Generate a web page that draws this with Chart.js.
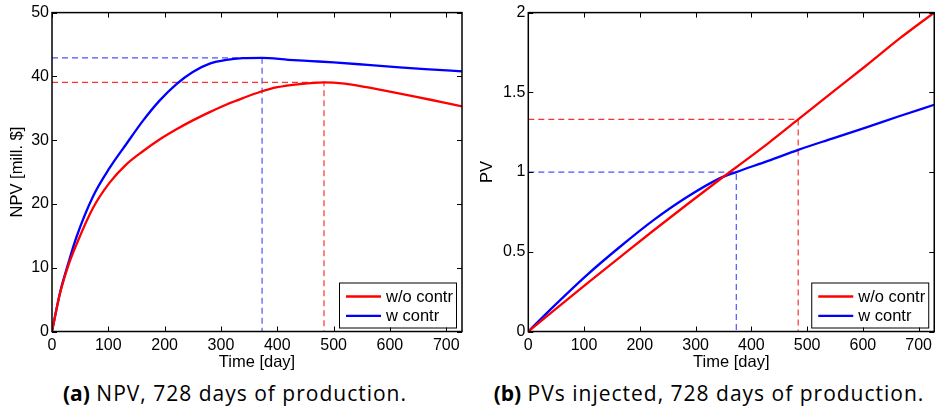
<!DOCTYPE html>
<html>
<head>
<meta charset="utf-8">
<script src="https://cdn.jsdelivr.net/npm/chart.js@4.4.1/dist/chart.umd.min.js"></script>
<style>
  body { margin: 0; background: #fff; width: 936px; height: 413px; position: relative; overflow: hidden; }
  canvas { position: absolute; top: 0; }
  #npvChart { left: 0; }
  #pvChart { left: 466px; }
  .caption {
    position: absolute; top: 383px; line-height: 1;
    font-family: "Open Sans", sans-serif; font-size: 21px; letter-spacing: 1px;
    color: #000; white-space: nowrap; transform: translateX(-50%);
  }
  .caption b { font-weight: 700; letter-spacing: 0; }
</style>
</head>
<body>
<canvas id="npvChart" width="466" height="376"></canvas>
<canvas id="pvChart" width="470" height="376"></canvas>
<div class="caption" style="left:235px"><b>(a)</b> NPV, 728 days of production.</div>
<div class="caption" style="left:709px"><b>(b)</b> PVs injected, 728 days of production.</div>

<script>
// NPV [mill. $] over time, without / with control
const npvDaysWithout = [0, 14, 30, 46, 73, 102, 132, 162, 191, 221, 250, 280, 310, 339, 369, 400, 440, 483, 520, 558, 600, 647, 690, 728];
const npvWithout     = [0, 5.9, 10.6, 14.2, 19.4, 23.3, 26.2, 28.3, 30.1, 31.7, 33.1, 34.4, 35.6, 36.6, 37.55, 38.3, 38.8, 39.07, 38.85, 38.3, 37.6, 36.8, 36.0, 35.3];
const npvDaysWith    = [0, 14, 30, 43, 73, 102, 132, 162, 191, 221, 250, 280, 310, 339, 373, 420, 460, 500, 560, 617, 670, 728];
const npvWith        = [0, 6.0, 11.0, 14.7, 21.2, 25.6, 29.4, 33.1, 36.2, 38.8, 40.7, 42.0, 42.6, 42.85, 42.9, 42.6, 42.4, 42.2, 41.8, 41.4, 41.1, 40.8];

// pore volumes injected
const pvDays    = [0, 45, 105, 164, 224, 284, 344, 373, 430, 484, 545, 605, 665, 728];
const pvWithout = [0, 0.13, 0.30, 0.465, 0.632, 0.795, 0.955, 1.03, 1.18, 1.33, 1.50, 1.665, 1.835, 2.0];
const pvWith    = [0, 0.156, 0.354, 0.53, 0.697, 0.842, 0.962, 1.0, 1.07, 1.139, 1.21, 1.279, 1.35, 1.422];

// optimum markers (day, value)
const npvPeakWithout = [483, 39.07];
const npvPeakWith    = [373, 42.9];
const pvAtPeakWithout = [484, 1.33];
const pvAtPeakWith    = [373, 1.0];

const xTicks = [0, 100, 200, 300, 400, 500, 600, 700];
const seriesLabels = ['w/o contr', 'w contr'];

const RED = '#ff0000';
const BLUE = '#0000ff';
const FAMILY = 'Liberation Sans, Arial, sans-serif';
const TICK_FONT = { family: FAMILY, size: 16 };
const TITLE_FONT = { family: FAMILY, size: 16.5 };

const pairs = (xs, ys) => xs.map((x, i) => ({ x: x, y: ys[i] }));
const guide = (pt) => [{ x: 0, y: pt[1] }, { x: pt[0], y: pt[1] }, { x: pt[0], y: 0 }];

// box around the plot with inward ticks on all four sides
const frame = {
  id: 'frame',
  afterDatasetsDraw(chart) {
    const { ctx, chartArea: a, scales: { x, y } } = chart;
    ctx.save();
    ctx.strokeStyle = '#000';
    ctx.lineWidth = 1;
    ctx.beginPath();
    x.ticks.forEach(t => {
      const px = Math.round(x.getPixelForValue(t.value)) + 0.5;
      ctx.moveTo(px, a.bottom); ctx.lineTo(px, a.bottom - 5);
      ctx.moveTo(px, a.top); ctx.lineTo(px, a.top + 5);
    });
    y.ticks.forEach(t => {
      const py = Math.round(y.getPixelForValue(t.value)) + 0.5;
      ctx.moveTo(a.left, py); ctx.lineTo(a.left + 5, py);
      ctx.moveTo(a.right, py); ctx.lineTo(a.right - 5, py);
    });
    ctx.stroke();
    ctx.lineWidth = 1.5;
    ctx.strokeRect(a.left, a.top, a.right - a.left, a.bottom - a.top);
    ctx.restore();
  }
};

// legend box in the lower right corner of the plot
const cornerLegend = {
  id: 'cornerLegend',
  afterDraw(chart) {
    const { ctx, chartArea: a } = chart;
    const items = chart.data.datasets.filter(d => !d.guide);
    const w = 117, h = 45;
    const left = a.right - 6 - w, top = a.bottom - 4 - h;
    ctx.save();
    ctx.fillStyle = '#fff';
    ctx.fillRect(left, top, w, h);
    ctx.strokeStyle = '#000';
    ctx.lineWidth = 1;
    ctx.strokeRect(left + 0.5, top + 0.5, w, h);
    ctx.font = '16.5px ' + FAMILY;
    ctx.textBaseline = 'middle';
    ctx.fillStyle = '#000';
    items.forEach((d, i) => {
      const yy = top + 14 + i * 19.3;
      ctx.strokeStyle = d.borderColor;
      ctx.lineWidth = 2.3;
      ctx.beginPath();
      ctx.moveTo(left + 7, yy);
      ctx.lineTo(left + 42, yy);
      ctx.stroke();
      ctx.fillText(d.label, left + 47, yy + 1);
    });
    ctx.restore();
  }
};

function makeChart(id, cfg) {
  return new Chart(document.getElementById(id), {
    type: 'line',
    data: {
      datasets: [
        { label: seriesLabels[0], data: cfg.without, borderColor: RED, borderWidth: 2.3, pointRadius: 0, cubicInterpolationMode: 'monotone' },
        { label: seriesLabels[1], data: cfg.withC, borderColor: BLUE, borderWidth: 2.3, pointRadius: 0, cubicInterpolationMode: 'monotone' },
        { guide: true, data: guide(cfg.markWithout), borderColor: '#ff3030', borderWidth: 1.2, borderDash: [6, 4], pointRadius: 0 },
        { guide: true, data: guide(cfg.markWith), borderColor: '#5050ff', borderWidth: 1.2, borderDash: [6, 4], pointRadius: 0 }
      ]
    },
    options: {
      responsive: false,
      animation: false,
      layout: { padding: cfg.padding },
      plugins: { legend: { display: false }, tooltip: { enabled: false } },
      scales: {
        x: {
          type: 'linear', min: 0, max: 728, bounds: 'data',
          afterBuildTicks: s => { s.ticks = xTicks.map(v => ({ value: v })); },
          ticks: { color: '#000', font: TICK_FONT, padding: 4, maxRotation: 0, autoSkip: false },
          grid: { display: false, drawTicks: false },
          border: { display: false },
          title: { display: true, text: 'Time [day]', color: '#000', font: TITLE_FONT, padding: { top: 0, bottom: 4 } },
          afterFit: s => { s.height = 44.5; }
        },
        y: {
          type: 'linear', min: 0, max: cfg.yMax, bounds: 'data',
          ticks: { color: '#000', font: TICK_FONT, padding: 3, stepSize: cfg.yStep, callback: v => String(v) },
          grid: { display: false, drawTicks: false },
          border: { display: false },
          title: { display: true, text: cfg.yTitle, color: '#000', font: TITLE_FONT, padding: { top: 4, bottom: 0 } },
          afterFit: s => { s.width = cfg.yWidth; }
        }
      }
    },
    plugins: [frame, cornerLegend]
  });
}

makeChart('npvChart', {
  without: pairs(npvDaysWithout, npvWithout),
  withC: pairs(npvDaysWith, npvWith),
  markWithout: npvPeakWithout,
  markWith: npvPeakWith,
  yMax: 50, yStep: 10, yTitle: 'NPV [mill. $]', yWidth: 48,
  padding: { left: 4, top: 10, right: 4, bottom: 0 }
});

makeChart('pvChart', {
  without: pairs(pvDays, pvWithout),
  withC: pairs(pvDays, pvWith),
  markWithout: pvAtPeakWithout,
  markWith: pvAtPeakWith,
  yMax: 2, yStep: 0.5, yTitle: 'PV', yWidth: 54.3,
  padding: { left: 8, top: 11, right: 0.7, bottom: 0 }
});
</script>
</body>
</html>
